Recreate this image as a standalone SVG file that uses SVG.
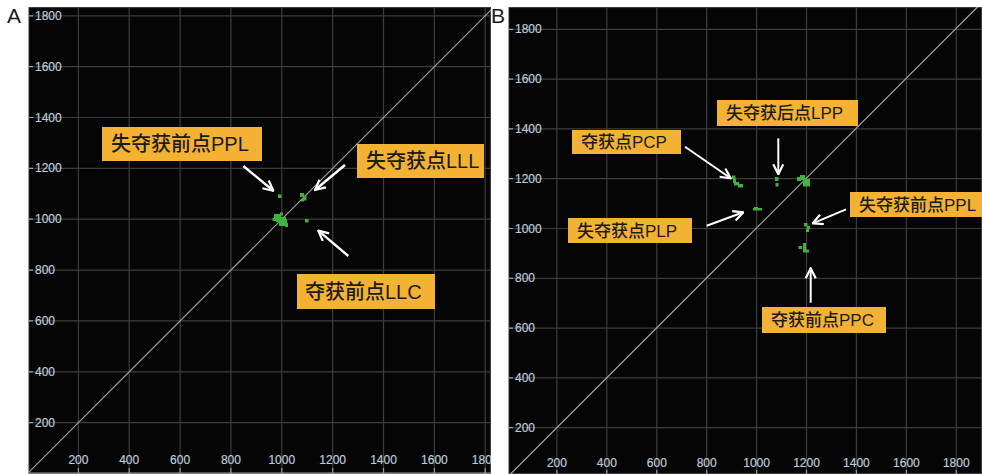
<svg xmlns="http://www.w3.org/2000/svg" width="982" height="474" viewBox="0 0 982 474">
<style>
.bg{fill:#050505}
.grid{stroke:#3c3c3c;stroke-width:1.2;fill:none}
.axis{stroke:#9a9a9a;stroke-width:1.2;fill:none}
.diag{stroke:#a8a8a8;stroke-width:1.2;fill:none}
.tick{font-family:"Liberation Sans",Arial,sans-serif;font-size:12px;fill:#bccbdb;stroke:#bccbdb;stroke-width:0.2}
.lblbox{fill:#f3b234}
.lblA{font-family:"Liberation Sans","Noto Sans CJK SC",sans-serif;font-size:20px;font-weight:500;fill:#1c1c1c}
.lblB{font-family:"Liberation Sans","Noto Sans CJK SC",sans-serif;font-size:17px;font-weight:500;fill:#1c1c1c}
.arrow{stroke:#ffffff;stroke-width:2.4;fill:none;marker-end:url(#ah)}
.pt{fill:#3fb240}
.panel{font-family:"Liberation Sans",Arial,sans-serif;font-size:21px;fill:#1e1a16}
</style>
<defs>
<marker id="ah" viewBox="0 0 12 12" refX="11" refY="6" markerWidth="12" markerHeight="12" markerUnits="userSpaceOnUse" orient="auto">
<path d="M1,1 L11,6 L1,11" stroke="#ffffff" stroke-width="2.2" fill="none"/>
</marker>
<clipPath id="cA"><rect x="28" y="7" width="463" height="467"/></clipPath>
<clipPath id="cB"><rect x="508" y="7" width="474" height="467"/></clipPath>
</defs>
<rect width="982" height="474" fill="#ffffff"/>

<!-- Panel A -->
<g id="panelA">
<text class="panel" x="7" y="23">A</text>
<rect class="bg" x="28" y="7" width="463" height="467"/>
<g clip-path="url(#cA)">
<g class="grid">
<path d="M28,422.6H491M28,371.8H491M28,320.9H491M28,270.1H491M28,219.2H491M28,168.3H491M28,117.5H491M28,66.6H491M28,15.8H491"/>
<path d="M78.4,7V474M129.2,7V474M180.1,7V474M230.9,7V474M281.8,7V474M332.7,7V474M383.5,7V474M434.4,7V474M485.2,7V474"/>
<rect x="28.5" y="7.5" width="462" height="466"/>
</g>
<path class="diag" d="M27.5,473.5L494,7"/>
<path class="axis" d="M28.5,7V474M28,473.2H491"/>
<path class="axis" d="M28,422.6h5M28,371.8h5M28,320.9h5M28,270.1h5M28,219.2h5M28,168.3h5M28,117.5h5M28,66.6h5M28,15.8h5"/>
<path class="axis" d="M78.4,468V474M129.2,468V474M180.1,468V474M230.9,468V474M281.8,468V474M332.7,468V474M383.5,468V474M434.4,468V474M485.2,468V474"/>
<g class="tick">
<text x="35" y="426.6">200</text>
<text x="35" y="375.8">400</text>
<text x="35" y="324.9">600</text>
<text x="35" y="274.1">800</text>
<text x="35" y="223.2">1000</text>
<text x="35" y="172.3">1200</text>
<text x="35" y="121.5">1400</text>
<text x="35" y="70.6">1600</text>
<text x="35" y="19.8">1800</text>
</g>
<g class="tick" text-anchor="middle">
<text x="78.4" y="464">200</text>
<text x="129.2" y="464">400</text>
<text x="180.1" y="464">600</text>
<text x="230.9" y="464">800</text>
<text x="281.8" y="464">1000</text>
<text x="332.7" y="464">1200</text>
<text x="383.5" y="464">1400</text>
<text x="434.4" y="464">1600</text>
<text x="485.2" y="464">1800</text>
</g>
</g>
<g id="pointsA">
<rect class="pt" x="278" y="194.5" width="3.5" height="3.5"/>
<rect class="pt" x="300" y="193" width="4" height="4"/>
<rect class="pt" x="303" y="195.5" width="3.5" height="5"/>
<rect class="pt" x="301" y="199" width="3" height="2.5"/>
<rect class="pt" x="305" y="219" width="3.5" height="3.5"/>
<rect class="pt" x="274" y="214" width="7" height="4"/>
<rect class="pt" x="276" y="217" width="10" height="5"/>
<rect class="pt" x="279" y="221" width="6" height="5"/>
<rect class="pt" x="283" y="219" width="4" height="7"/>
<rect class="pt" x="272.5" y="218" width="4" height="3"/>
<rect class="pt" x="280" y="212.5" width="3" height="3"/>
<rect class="pt" x="285" y="223" width="3" height="4"/>
</g>
</g>

<!-- Panel B -->
<g id="panelB">
<text class="panel" x="491" y="23">B</text>
<rect class="bg" x="508" y="7" width="474" height="467"/>
<g clip-path="url(#cB)">
<g class="grid">
<path d="M508,427.7H982M508,377.9H982M508,328.1H982M508,278.3H982M508,228.5H982M508,178.7H982M508,128.9H982M508,79.1H982M508,29.3H982"/>
<path d="M556.9,7V474M606.8,7V474M656.8,7V474M706.7,7V474M756.6,7V474M806.5,7V474M856.4,7V474M906.4,7V474M956.3,7V474"/>
<rect x="508.5" y="7.5" width="473" height="466"/>
</g>
<path class="diag" d="M507,477.5L978,6.5"/>
<path class="axis" d="M508.5,7V474"/>
<path class="axis" d="M508,427.7h5M508,377.9h5M508,328.1h5M508,278.3h5M508,228.5h5M508,178.7h5M508,128.9h5M508,79.1h5M508,29.3h5"/>
<path class="axis" d="M556.9,470V474M606.8,470V474M656.8,470V474M706.7,470V474M756.6,470V474M806.5,470V474M856.4,470V474M906.4,470V474M956.3,470V474"/>
<g class="tick">
<text x="515" y="431.7">200</text>
<text x="515" y="381.9">400</text>
<text x="515" y="332.1">600</text>
<text x="515" y="282.3">800</text>
<text x="515" y="232.5">1000</text>
<text x="515" y="182.7">1200</text>
<text x="515" y="132.9">1400</text>
<text x="515" y="83.1">1600</text>
<text x="515" y="33.3">1800</text>
</g>
<g class="tick" text-anchor="middle">
<text x="556.9" y="467">200</text>
<text x="606.8" y="467">400</text>
<text x="656.8" y="467">600</text>
<text x="706.7" y="467">800</text>
<text x="756.6" y="467">1000</text>
<text x="806.5" y="467">1200</text>
<text x="856.4" y="467">1400</text>
<text x="906.4" y="467">1600</text>
<text x="956.3" y="467">1800</text>
</g>
</g>
<g id="pointsB">
<rect class="pt" x="732" y="175.5" width="3.5" height="3.5"/>
<rect class="pt" x="733" y="179" width="3" height="4"/>
<rect class="pt" x="734" y="182" width="5" height="3.5"/>
<rect class="pt" x="738" y="184" width="5" height="3.5"/>
<rect class="pt" x="775" y="177" width="3.5" height="4"/>
<rect class="pt" x="775.5" y="183" width="3" height="3.5"/>
<rect class="pt" x="797" y="177" width="4" height="4"/>
<rect class="pt" x="800" y="175" width="5" height="5"/>
<rect class="pt" x="803" y="179" width="7" height="4"/>
<rect class="pt" x="803" y="183" width="7" height="3.5"/>
<rect class="pt" x="753" y="208" width="9" height="2.5"/>
<rect class="pt" x="754" y="207" width="4" height="2"/>
<rect class="pt" x="804" y="223" width="3.5" height="3.5"/>
<rect class="pt" x="807" y="226" width="3" height="3"/>
<rect class="pt" x="806" y="228.5" width="3" height="3.5"/>
<rect class="pt" x="798.5" y="246" width="3.5" height="3"/>
<rect class="pt" x="803" y="243" width="3" height="9"/>
<rect class="pt" x="803" y="249.5" width="6" height="3"/>
</g>
</g>

<!-- Connectors -->
<g id="connectors">
<path class="arrow" d="M243.3,166L273.3,190.7"/>
<path class="arrow" d="M345,165L315,190"/>
<path class="arrow" d="M348.3,256L318.3,230.7"/>
<path class="arrow" style="stroke-width:2" d="M778.3,138.3V174.3"/>
<path class="arrow" style="stroke-width:2" d="M685,146.7L730.7,178.3"/>
<path class="arrow" style="stroke-width:2" d="M706.7,225.7L743.3,212.3"/>
<path class="arrow" style="stroke-width:2" d="M846,209.3L812.7,223.3"/>
<path class="arrow" style="stroke-width:2" d="M810.7,302.7V268.3"/>
</g>

<!-- Labels -->
<g id="label-A-PPL">
<rect class="lblbox" x="102" y="127" width="160" height="34"/>
<text class="lblA" x="111" y="151">失夺获前点PPL</text>
</g>
<g id="label-A-LLL">
<rect class="lblbox" x="357" y="144" width="127" height="34"/>
<text class="lblA" x="366" y="168">失夺获点LLL</text>
</g>
<g id="label-A-LLC">
<rect class="lblbox" x="297" y="274" width="138" height="35"/>
<text class="lblA" x="305" y="299">夺获前点LLC</text>
</g>
<g id="label-B-LPP">
<rect class="lblbox" x="717" y="100" width="141" height="26"/>
<text class="lblB" x="726" y="119">失夺获后点LPP</text>
</g>
<g id="label-B-PCP">
<rect class="lblbox" x="572" y="130" width="109" height="24"/>
<text class="lblB" x="581" y="148">夺获点PCP</text>
</g>
<g id="label-B-PLP">
<rect class="lblbox" x="568" y="218" width="124" height="25"/>
<text class="lblB" x="577" y="237">失夺获点PLP</text>
</g>
<g id="label-B-PPL">
<rect class="lblbox" x="850" y="192" width="132" height="25"/>
<text class="lblB" x="859" y="210.5">失夺获前点PPL</text>
</g>
<g id="label-B-PPC">
<rect class="lblbox" x="762" y="307" width="124" height="26"/>
<text class="lblB" x="771" y="326">夺获前点PPC</text>
</g>
</svg>
